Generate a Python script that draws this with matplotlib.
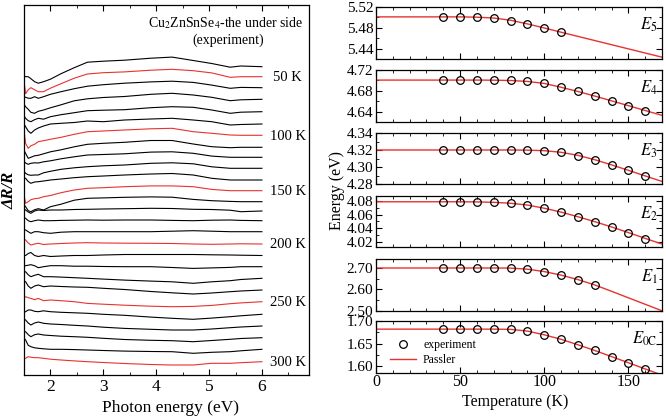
import numpy as np
import matplotlib
matplotlib.use("Agg")
import matplotlib.pyplot as plt
from matplotlib.lines import Line2D
from matplotlib.ticker import MultipleLocator, FormatStrFormatter

# ---- left panel: dR/R spectra (relative trace, arbitrary units) ----
photon_energy = [1.50, 1.53, 1.58, 1.63, 1.70, 1.77, 1.87, 2.00, 2.20, 2.45,
                 2.70, 3.00, 3.40, 3.90, 4.30, 4.70, 5.05, 5.40, 5.60, 6.00]

r040 = [-9, -10, -10, -12, -15, -16.5, -15, -12.5, -7, -1, 4.5, 5.5, 6.5, 8.5, 9.6, 6.2, 3.2, -0.5, 0.7, 0]
r050 = [-4, -17, -13, -11, -13, -15, -15, -11.5, -7, -1.5, 2.7, 4, 4.8, 6.5, 7.4, 6, 3.8, -0.6, 0, 0]
r060 = [-9, -9.6, -10.5, -10.6, -9, -10.6, -9, -6.6, -4, -1, 1.5, 3, 4.5, 5.8, 6.5, 5.3, 2.6, -0.6, 0.3, 0]
r070 = [-5, -7.4, -10, -13, -14, -12, -10.7, -8.5, -5.5, -1.5, 0.5, 1.8, 2.8, 5, 6, 4.3, 2, -1.4, -0.5, 0]
r080 = [-4, -6.6, -9, -10, -8, -6.6, -7.5, -5, -3, -1, 1, 1.5, 2, 4, 5, 4.4, 1.7, -1.6, -0.5, 0]
r090 = [0, -2.7, -7, -9.3, -6, -4, -2, 0, 0.7, 1.5, 3, 2.3, 4, 5, 5.7, 4, 2.3, -1, -0.5, 0]
r100 = [5, -8, -13, -10.5, -9, -6.4, -5.4, -4, -2, 1, 3.6, 4.3, 5.3, 6.5, 7, 3.6, 2, 0.3, 0, 0]
r110 = [-3, -6, -11, -10, -8.5, -8, -6.5, -4.5, -2.5, 0.5, 3, 4, 5, 6.8, 6.8, 3.3, 0.6, -0.4, 0, 0]
r120 = [-4, -5.7, -7, -6, -5.5, -5.7, -4.5, -3.5, -1.5, 0.5, 2.3, 2.8, 3.5, 5.2, 5.5, 4, 1.2, 0, 0, 0]
r130 = [-3, -5, -6.5, -7, -6.7, -6.7, -4.5, -3, -1, 0.5, 1.6, 2.5, 3.3, 5, 5.5, 4.5, 1.5, 0, 0, 0]
r140 = [2, 1.7, -1.5, -3.3, -2, -1.7, -1, 0, 1, 2.3, 3.3, 4, 5, 6, 6.5, 5, 1.7, 0, 0, 0]
r150 = [-4, -12.6, -11, -9, -8, -7.6, -6, -4.8, -2, 0.7, 2.4, 3, 4, 4.8, 4.8, 4, 1.3, 0, 0, 0]
r160 = [-3, -5, -9, -10, -8, -7, -8.3, -5, -2.5, 1.5, 3.4, 3.8, 4.4, 4.8, 4.5, 2.3, 1, 0.3, 0, 0]
r170 = [2, 1, -1, -2.3, 0, 1, 0.5, 1, 1, 1.5, 1.7, 2, 2.3, 2.7, 2.5, 1.7, 1.5, 0.8, -0.7, 0]
r180 = [3, 2.4, 0, -1, 0, 0.7, 0, 0, 0.3, 0.5, 0.7, 0.5, 0.7, 0.7, 0.3, 0, 0.5, 0.7, 0.3, 0]
r190 = [2, 1.7, 0, -1.6, 0, 0, -1, -1.6, -0.5, 0, 0, 0, 0, 0, 0.5, 1, 0.5, 0, 0, 0]
r200 = [5, 4, 1, -1, 0, 0.7, -0.5, 0, 0.5, 1, 1.3, 1, 0.8, 0.7, 0.5, 0, -0.3, 0, 0.2, 0]
r210 = [0, 0, 2, 3, 0, -1, 0, -1, -0.5, 0, 0, 0.5, 1, 1, 1, 1, 0.7, 0.5, 0.3, 0]
r220 = [1, 1, 1.5, 2, 1, -1, 0, 1, 1, 0.5, 0.5, 0.2, 0, 0, -0.8, -1.7, -1.2, -0.7, 0, 0]
r230 = [6, 6.6, 3.5, 1.6, 3, 4, 1.6, 1.6, 1.2, 0.6, 0, -0.8, -1.8, -2.8, -3.5, -5, -3.5, -2.4, -1.2, 0]
r240 = [9, 8.3, 4, 1.7, 4, 5, 3.3, 4, 3.5, 3, 2.7, 1.7, 0.5, -1.5, -2.8, -4, -3, -1.7, -1, 0]
r250 = [4, 5, 4, 3.3, 2, 3.3, 1, 1.7, 1, 0, -1.7, -2.5, -3.5, -4.5, -5, -4.7, -3.7, -2, -1.2, 0]
r260 = [2, 2.6, 4.3, 4.3, 3, 2.6, 3.5, 2.6, 2, 1.5, 1, 0, -1, -2.8, -4, -5, -3.8, -2.4, -1.5, 0]
r270 = [7, 6, 3, 1, 3, 4, 2.7, 2, 1.5, 0.7, 0, -1.2, -2.4, -3.3, -4, -4, -3, -1.7, -1, 0]
r280 = [6, 6, 3, 1, 3, 3.7, 2.7, 2.2, 1.5, 1, 0.4, -0.6, -1.8, -2.6, -3, -4, -2.8, -1.6, -0.8, 0]
r290 = [11, 9.3, 4, 2.6, 1.5, 1, 0.5, 0, 0, -0.3, -0.7, -1.2, -1.8, -2.2, -2.4, -4, -3, -2.4, -1.5, 0]
r300 = [3, 3.4, 5, 4.5, 4, 4, 3.4, 2.5, 1.7, 0.8, 0, -0.8, -1.8, -2.8, -3.3, -3.3, -1.6, -1.6, -1, 0]

spectra = [r040, r050, r060, r070, r080, r090, r100, r110, r120, r130, r140,
           r150, r160, r170, r180, r190, r200, r210, r220, r230, r240, r250,
           r260, r270, r280, r290, r300]
spectra_temp = list(range(40, 301, 10))
trace_offset = [66.7, 76.7, 87.7, 99.3, 111.7, 124, 135.3, 147.3, 157.3, 168.3,
                180, 190.7, 201.7, 211, 220.7, 231.7, 244, 255.5, 266.7, 278.3,
                290, 301.7, 314.3, 326, 337.7, 349.3, 361.7]

# ---- right panels: transition energies vs temperature ----
temp_line = list(range(0, 171, 10))

e5_T = [40, 50, 60, 70, 80, 90, 100, 110]
e5_exp = [5.501, 5.501, 5.5005, 5.4992, 5.494, 5.4868, 5.4797, 5.4712]
e5_fit = [5.501, 5.501, 5.501, 5.501, 5.501, 5.501, 5.5004, 5.4988, 5.4945,
          5.4875, 5.4797, 5.4715, 5.4635, 5.4555, 5.4475, 5.4395, 5.4315, 5.4235]

e4_T = [40, 50, 60, 70, 80, 90, 100, 110, 120, 130, 140, 150, 160]
e4_exp = [4.7006, 4.7006, 4.7006, 4.7006, 4.7000, 4.6981, 4.6942, 4.6865,
          4.6787, 4.6697, 4.6606, 4.6510, 4.6419]
e4_fit = [4.7006, 4.7006, 4.7006, 4.7006, 4.7006, 4.7006, 4.7006, 4.7004, 4.6998,
          4.6980, 4.6942, 4.6868, 4.6787, 4.6699, 4.6607, 4.6514, 4.6421, 4.6328]

e3_T = [40, 50, 60, 70, 80, 90, 100, 110, 120, 130, 140, 150, 160]
e3_exp = [4.3200, 4.3200, 4.3200, 4.3200, 4.3200, 4.3200, 4.3192, 4.3173,
          4.3135, 4.3085, 4.3023, 4.2962, 4.2892]
e3_fit = [4.3200, 4.3200, 4.3200, 4.3200, 4.3200, 4.3200, 4.3200, 4.3200, 4.3200,
          4.3198, 4.3192, 4.3173, 4.3137, 4.3086, 4.3025, 4.2961, 4.2895, 4.2830]

e2_T = [40, 50, 60, 70, 80, 90, 100, 110, 120, 130, 140, 150, 160]
e2_exp = [4.0790, 4.0790, 4.0790, 4.0780, 4.0775, 4.0741, 4.0692, 4.0638,
          4.0569, 4.0500, 4.0422, 4.0338, 4.0250]
e2_fit = [4.0790, 4.0790, 4.0790, 4.0790, 4.0790, 4.0790, 4.0788, 4.0782, 4.0768,
          4.0742, 4.0695, 4.0638, 4.0570, 4.0498, 4.0420, 4.0337, 4.0252, 4.0168]

e1_T = [40, 50, 60, 70, 80, 90, 100, 110, 120, 130]
e1_exp = [2.6984, 2.6984, 2.6984, 2.6984, 2.6984, 2.692, 2.681, 2.665, 2.6444, 2.619]
e1_fit = [2.6985, 2.6985, 2.6985, 2.6985, 2.6985, 2.6985, 2.6985, 2.6985, 2.6980,
          2.6930, 2.6820, 2.6655, 2.6450, 2.6205, 2.5910, 2.5610, 2.5310, 2.5010]

e0_T = [40, 50, 60, 70, 80, 90, 100, 110, 120, 130, 140, 150, 160]
e0_exp = [1.682, 1.682, 1.682, 1.682, 1.682, 1.6774, 1.6684, 1.6602, 1.6466,
          1.6353, 1.6211, 1.6075, 1.5940]
e0_fit = [1.682, 1.682, 1.682, 1.682, 1.682, 1.682, 1.682, 1.682, 1.6815,
          1.6777, 1.6695, 1.6595, 1.6475, 1.6348, 1.6213, 1.6077, 1.5940, 1.5803]

RED = "#e8322e"

plt.rcParams["font.family"] = "serif"
plt.rcParams["font.serif"] = ["Liberation Serif", "DejaVu Serif"]
plt.rcParams["mathtext.fontset"] = "stix"
plt.rcParams["xtick.direction"] = "in"
plt.rcParams["ytick.direction"] = "in"
plt.rcParams["axes.linewidth"] = 0.9

W, H = 666, 419
fig = plt.figure(figsize=(W / 100, H / 100), dpi=100)


def box(x0, y0, x1, y1):
    # pixel box (top-left origin) -> figure fraction rect
    return (x0 / W, 1 - y1 / H, (x1 - x0) / W, (y1 - y0) / H)


# left panel
ax = fig.add_axes(box(24, 5, 309, 375))
for T, rel, off in zip(spectra_temp, spectra, trace_offset):
    col = RED if T % 50 == 0 else "black"
    ax.plot(photon_energy, np.array(rel) - off, color=col, lw=0.8)
    if T % 50 == 0:
        ax.text(6.49, -off - 1, f"{T} K", ha="center", va="center", fontsize=10.5)
ax.set_xlim(1.5, 6.89)
ax.set_ylim(-375, -5)
ax.set_yticks([])
ax.xaxis.set_major_locator(MultipleLocator(1))
ax.xaxis.set_minor_locator(MultipleLocator(0.5))
ax.tick_params(axis="x", which="both", top=True, labelsize=12.5, pad=3)
ax.tick_params(axis="x", which="major", length=4)
ax.tick_params(axis="x", which="minor", length=2.5)
ax.text(0.982, 0.951, "Cu$_2$ZnSnSe$_4$-the under side", transform=ax.transAxes,
        ha="right", va="center", fontsize=10)
ax.text(0.716, 0.905, "(experiment)", transform=ax.transAxes,
        ha="center", va="center", fontsize=10)
fig.text(10 / W, 1 - 190 / H, "ΔR/R", rotation=90, ha="center", va="center",
         fontsize=12, fontweight="bold", fontstyle="italic")
fig.text(171 / W, 1 - 408 / H, "Photon energy (eV)", ha="center", va="center",
         fontsize=12.5)

# right panels
panels = [
    (e5_T, e5_exp, e5_fit, (5.42, 5.52), [5.44, 5.48, 5.52], 0.02, "$E_5$", (7, 59)),
    (e4_T, e4_exp, e4_fit, (4.62, 4.72), [4.64, 4.68, 4.72], 0.02, "$E_4$", (70, 122)),
    (e3_T, e3_exp, e3_fit, (4.28, 4.34), [4.28, 4.30, 4.32, 4.34], 0.01, "$E_3$", (133, 184)),
    (e2_T, e2_exp, e2_fit, (4.0125, 4.0875), [4.02, 4.04, 4.06, 4.08], 0.01, "$E_2$", (196, 247)),
    (e1_T, e1_exp, e1_fit, (2.50, 2.74), [2.50, 2.60, 2.70], 0.05, "$E_1$", (259, 311)),
    (e0_T, e0_exp, e0_fit, (1.585, 1.70), [1.60, 1.65, 1.70], 0.025, "$E_{0\\mathrm{C}}$", (321, 373)),
]

for i, (tx, ex, fit, ylim, yt, ymin, lab, (y0, y1)) in enumerate(panels):
    a = fig.add_axes(box(376, y0, 662, y1))
    a.plot(temp_line, fit, color=RED, lw=1.0, zorder=2)
    a.plot(tx, ex, "o", mfc="none", mec="black", mew=0.9, ms=5.5, zorder=3)
    a.set_xlim(0, 170)
    a.set_ylim(*ylim)
    a.set_yticks(yt)
    a.yaxis.set_minor_locator(MultipleLocator(ymin))
    a.yaxis.set_major_formatter(FormatStrFormatter("%.2f"))
    a.xaxis.set_major_locator(MultipleLocator(50))
    a.xaxis.set_minor_locator(MultipleLocator(10))
    a.tick_params(which="both", top=True, right=True, labelsize=11, pad=2)
    a.tick_params(which="major", length=4)
    a.tick_params(which="minor", length=2.5)
    a.text(0.985, 0.65, lab, transform=a.transAxes, ha="right", va="center",
           fontsize=12)
    if i < len(panels) - 1:
        a.tick_params(axis="x", labelbottom=False)
    else:
        a.tick_params(axis="x", labelsize=11.5, pad=1)
        handles = [
            Line2D([], [], ls="none", marker="o", mfc="none", mec="black", mew=0.9, ms=5.5),
            Line2D([], [], color=RED, lw=1.0),
        ]
        a.legend(handles, ["experiment", "Passler"], loc="lower left",
                 bbox_to_anchor=(0.02, -0.02), frameon=False, fontsize=8.5,
                 handlelength=2.2, handletextpad=0.6, labelspacing=0.25,
                 borderpad=0.2)

fig.text(337 / W, 1 - 190 / H, "Energy (eV)", rotation=90, ha="center",
         va="center", fontsize=11.5)
fig.text(515 / W, 1 - 402 / H, "Temperature (K)", ha="center", va="center",
         fontsize=11.5)

fig.savefig("out.png", dpi=100)
